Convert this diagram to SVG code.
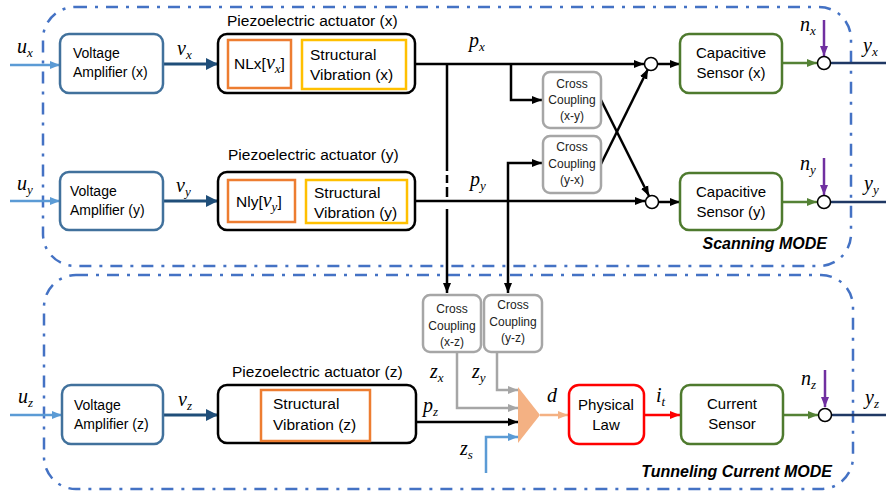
<svg xmlns="http://www.w3.org/2000/svg" width="886" height="494" viewBox="0 0 886 494">
<defs>
<style>
.t{font-family:"Liberation Sans",Arial,sans-serif;fill:#000}
.t14{font-size:14px}
.t15{font-size:15px}
.t155{font-size:15.5px}
.t12{font-size:12px;fill:#222}
.mode{font-family:"Liberation Sans",Arial,sans-serif;font-size:16px;font-weight:bold;font-style:italic;text-anchor:end}
.m{font-family:"Liberation Serif","Times New Roman",serif;font-style:italic;font-size:20px;fill:#000}
.s{font-size:13px}
.c{text-anchor:middle}
.zone{fill:none;stroke:#4472C4;stroke-width:2.5;stroke-dasharray:12 8 3 8}
.amp{fill:#fff;stroke:#41719C;stroke-width:2.5}
.pz{fill:#fff;stroke:#000;stroke-width:2.5}
.nl{fill:#fff;stroke:#ED7D31;stroke-width:2.5}
.sv{fill:#fff;stroke:#FFC000;stroke-width:2.5}
.cc{fill:#fff;stroke:#A6A6A6;stroke-width:2.5}
.sen{fill:#fff;stroke:#4E7A2E;stroke-width:2.5}
.pl{fill:#fff;stroke:#FF0000;stroke-width:2.5}
.sum{fill:#fff;stroke:#000;stroke-width:1.5}
.k{fill:none;stroke:#000;stroke-width:2.5}
.lb{fill:none;stroke:#5B9BD5;stroke-width:2.5}
.db{fill:none;stroke:#1F4E79;stroke-width:3}
.g{fill:none;stroke:#548235;stroke-width:2.5}
.pu{fill:none;stroke:#7030A0;stroke-width:2.5}
.nv{fill:none;stroke:#1F3864;stroke-width:2.5}
.gr{fill:none;stroke:#A6A6A6;stroke-width:2.5}
.or{fill:none;stroke:#F4B183;stroke-width:2.5}
.rd{fill:none;stroke:#FF0000;stroke-width:2.5}
</style>
<marker id="ak" viewBox="0 0 10 10" refX="10" refY="5" markerWidth="10" markerHeight="10" markerUnits="userSpaceOnUse" orient="auto"><path d="M0,1 L10,5 L0,9 z" fill="#000"/></marker>
<marker id="alb" viewBox="0 0 10 10" refX="10" refY="5" markerWidth="10" markerHeight="10" markerUnits="userSpaceOnUse" orient="auto"><path d="M0,1 L10,5 L0,9 z" fill="#5B9BD5"/></marker>
<marker id="adb" viewBox="0 0 10 10" refX="10" refY="5" markerWidth="12" markerHeight="12" markerUnits="userSpaceOnUse" orient="auto"><path d="M0,0 L10,5 L0,10 z" fill="#1F4E79"/></marker>
<marker id="ag" viewBox="0 0 10 10" refX="10" refY="5" markerWidth="10" markerHeight="10" markerUnits="userSpaceOnUse" orient="auto"><path d="M0,1 L10,5 L0,9 z" fill="#548235"/></marker>
<marker id="ap" viewBox="0 0 10 10" refX="10" refY="5" markerWidth="10" markerHeight="10" markerUnits="userSpaceOnUse" orient="auto"><path d="M0,1 L10,5 L0,9 z" fill="#7030A0"/></marker>
<marker id="agr" viewBox="0 0 10 10" refX="10" refY="5" markerWidth="10" markerHeight="10" markerUnits="userSpaceOnUse" orient="auto"><path d="M0,1 L10,5 L0,9 z" fill="#A6A6A6"/></marker>
<marker id="aor" viewBox="0 0 10 10" refX="10" refY="5" markerWidth="10" markerHeight="10" markerUnits="userSpaceOnUse" orient="auto"><path d="M0,1 L10,5 L0,9 z" fill="#F4B183"/></marker>
<marker id="ar" viewBox="0 0 10 10" refX="10" refY="5" markerWidth="10" markerHeight="10" markerUnits="userSpaceOnUse" orient="auto"><path d="M0,1 L10,5 L0,9 z" fill="#FF0000"/></marker>
</defs>
<rect width="886" height="494" fill="#fff"/>

<g id="zones">
<rect class="zone" x="43" y="7" width="808" height="259" rx="32"/>
<rect class="zone" x="44" y="275" width="809" height="214" rx="32"/>
<text class="mode" x="827" y="249">Scanning MODE</text>
<text class="mode" x="832" y="477">Tunneling Current MODE</text>
</g>

<g id="connectors">
<path class="lb" d="M10,65 H60" marker-end="url(#alb)"/>
<path class="lb" d="M10,201 H60" marker-end="url(#alb)"/>
<path class="lb" d="M10,415 H62" marker-end="url(#alb)"/>
<path class="db" d="M163,64 H218" marker-end="url(#adb)"/>
<path class="db" d="M163,201 H218" marker-end="url(#adb)"/>
<path class="db" d="M163,415 H218" marker-end="url(#adb)"/>
<path class="k" d="M415,64 H644" marker-end="url(#ak)"/>
<path class="k" d="M447,64 V171 M447,175 V183 M447,187 V197 M447,209 V293" marker-end="url(#ak)"/>
<path class="k" d="M511,64 V100 H542" marker-end="url(#ak)"/>
<path class="k" d="M601,100 L649,196" marker-end="url(#ak)"/>
<path class="k" d="M601,164 L648,69" marker-end="url(#ak)"/>
<path class="k" d="M415,201 H645" marker-end="url(#ak)"/>
<path class="k" d="M508,201 V163 H542" marker-end="url(#ak)"/>
<path class="k" d="M508,201 V293" marker-end="url(#ak)"/>
<path class="k" d="M657.5,64 H680" marker-end="url(#ak)"/>
<path class="k" d="M658.5,202 H680" marker-end="url(#ak)"/>
<path class="g" d="M782,63 H817" marker-end="url(#ag)"/>
<path class="g" d="M782,202 H817" marker-end="url(#ag)"/>
<path class="pu" d="M824,20 V56" marker-end="url(#ap)"/>
<path class="pu" d="M824,158 V195" marker-end="url(#ap)"/>
<path class="nv" d="M831,63 H886"/>
<path class="nv" d="M831,202 H886"/>
<path class="gr" d="M457,352 V408 H518" marker-end="url(#agr)"/>
<path class="gr" d="M497,352 V390 H518" marker-end="url(#agr)"/>
<path class="k" d="M416,422 H518" marker-end="url(#ak)"/>
<path class="lb" d="M486,473 V437 H518" marker-end="url(#alb)"/>
<path class="or" d="M540,415 H568" marker-end="url(#aor)"/>
<path class="rd" d="M644,415 H680" marker-end="url(#ar)"/>
<path class="g" d="M783,415 H818" marker-end="url(#ag)"/>
<path class="pu" d="M825,370 V407" marker-end="url(#ap)"/>
<path class="nv" d="M832,415 H886"/>
</g>

<g id="labels">
<text class="m" x="17" y="53">u<tspan class="s" dy="4">x</tspan></text>
<text class="m" x="17" y="190">u<tspan class="s" dy="4">y</tspan></text>
<text class="m" x="18" y="403">u<tspan class="s" dy="4">z</tspan></text>
<text class="m" x="177" y="55">v<tspan class="s" dy="4">x</tspan></text>
<text class="m" x="176" y="192">v<tspan class="s" dy="4">y</tspan></text>
<text class="m" x="178" y="406">v<tspan class="s" dy="4">z</tspan></text>
<text class="m" x="469" y="47">p<tspan class="s" dy="4">x</tspan></text>
<text class="m" x="470" y="186">p<tspan class="s" dy="4">y</tspan></text>
<text class="m" x="423" y="412">p<tspan class="s" dy="4">z</tspan></text>
<text class="m" x="430" y="378">z<tspan class="s" dy="4">x</tspan></text>
<text class="m" x="472" y="378">z<tspan class="s" dy="4">y</tspan></text>
<text class="m" x="460" y="455">z<tspan class="s" dy="4">s</tspan></text>
<text class="m" x="547" y="402">d</text>
<text class="m" x="656" y="402">i<tspan class="s" dy="4">t</tspan></text>
<text class="m" x="800" y="31">n<tspan class="s" dy="4">x</tspan></text>
<text class="m" x="800" y="170">n<tspan class="s" dy="4">y</tspan></text>
<text class="m" x="801" y="385">n<tspan class="s" dy="4">z</tspan></text>
<text class="m" x="863" y="52">y<tspan class="s" dy="4">x</tspan></text>
<text class="m" x="864" y="190">y<tspan class="s" dy="4">y</tspan></text>
<text class="m" x="865" y="404">y<tspan class="s" dy="4">z</tspan></text>
</g>

<g id="amp-x">
<rect class="amp" x="60" y="34" width="103" height="59" rx="9"/>
<text class="t t14" x="73" y="58">Voltage</text>
<text class="t t14" x="73" y="77">Amplifier (x)</text>
</g>
<g id="amp-y">
<rect class="amp" x="60" y="172" width="103" height="58" rx="9"/>
<text class="t t14" x="70" y="196">Voltage</text>
<text class="t t14" x="70" y="215">Amplifier (y)</text>
</g>
<g id="amp-z">
<rect class="amp" x="62" y="385" width="101" height="59" rx="9"/>
<text class="t t14" x="74" y="410">Voltage</text>
<text class="t t14" x="74" y="429">Amplifier (z)</text>
</g>

<g id="piezo-x">
<text class="t t155" x="227" y="26">Piezoelectric actuator (x)</text>
<rect class="pz" x="218" y="34" width="197" height="59" rx="9"/>
<rect class="nl" x="228" y="40" width="63" height="48"/>
<text class="t t155" x="234" y="69">NLx[<tspan class="m" font-size="18">v</tspan><tspan class="m s" dy="4">x</tspan><tspan dy="-4">]</tspan></text>
<rect class="sv" x="302" y="40" width="104" height="49"/>
<text class="t t155" x="310" y="60">Structural</text>
<text class="t t155" x="310" y="80">Vibration (x)</text>
</g>
<g id="piezo-y">
<text class="t t155" x="228" y="160">Piezoelectric actuator (y)</text>
<rect class="pz" x="218" y="172" width="197" height="58" rx="9"/>
<rect class="nl" x="228" y="180" width="67" height="42"/>
<text class="t t155" x="236" y="207">Nly[<tspan class="m" font-size="18">v</tspan><tspan class="m s" dy="4">y</tspan><tspan dy="-4">]</tspan></text>
<rect class="sv" x="306" y="180" width="101" height="43"/>
<text class="t t155" x="314" y="198">Structural</text>
<text class="t t155" x="314" y="218">Vibration (y)</text>
</g>
<g id="piezo-z">
<text class="t t155" x="232" y="377">Piezoelectric actuator (z)</text>
<rect class="pz" x="218" y="385" width="198" height="58" rx="9"/>
<rect class="nl" x="261" y="390" width="109" height="51"/>
<text class="t t155" x="273" y="409">Structural</text>
<text class="t t155" x="273" y="430">Vibration (z)</text>
</g>

<g id="cc-xy">
<rect class="cc" x="543" y="72" width="58" height="56" rx="7"/>
<text class="t t12 c" x="572" y="88">Cross</text>
<text class="t t12 c" x="572" y="104">Coupling</text>
<text class="t t12 c" x="572" y="120">(x-y)</text>
</g>
<g id="cc-yx">
<rect class="cc" x="543" y="136" width="58" height="57" rx="7"/>
<text class="t t12 c" x="572" y="151">Cross</text>
<text class="t t12 c" x="572" y="168">Coupling</text>
<text class="t t12 c" x="572" y="184">(y-x)</text>
</g>
<g id="cc-xz">
<rect class="cc" x="423" y="295" width="58" height="57" rx="7"/>
<text class="t t12 c" x="452" y="313">Cross</text>
<text class="t t12 c" x="452" y="330">Coupling</text>
<text class="t t12 c" x="452" y="346">(x-z)</text>
</g>
<g id="cc-yz">
<rect class="cc" x="484" y="295" width="58" height="57" rx="7"/>
<text class="t t12 c" x="513" y="309">Cross</text>
<text class="t t12 c" x="513" y="326">Coupling</text>
<text class="t t12 c" x="513" y="342">(y-z)</text>
</g>

<g id="sum-x"><circle class="sum" cx="651" cy="64" r="6.5"/></g>
<g id="sum-y"><circle class="sum" cx="652" cy="202" r="6.5"/></g>

<g id="sensor-x">
<rect class="sen" x="680" y="34" width="102" height="59" rx="9"/>
<text class="t t15 c" x="731" y="58">Capacitive</text>
<text class="t t15 c" x="731" y="78">Sensor (x)</text>
</g>
<g id="sensor-y">
<rect class="sen" x="680" y="173" width="102" height="57" rx="9"/>
<text class="t t15 c" x="731" y="197">Capacitive</text>
<text class="t t15 c" x="731" y="217">Sensor (y)</text>
</g>
<g id="noise-x"><circle class="sum" cx="824" cy="63" r="6.5"/></g>
<g id="noise-y"><circle class="sum" cx="824" cy="202" r="6.5"/></g>

<g id="combiner"><polygon points="518,387 518,443 540,415" fill="#F4B183"/></g>
<g id="physical-law">
<rect class="pl" x="569" y="385" width="75" height="59" rx="10"/>
<text class="t t15 c" x="606" y="410">Physical</text>
<text class="t t15 c" x="606" y="430">Law</text>
</g>
<g id="current-sensor">
<rect class="sen" x="681" y="385" width="102" height="59" rx="9"/>
<text class="t t15 c" x="732" y="409">Current</text>
<text class="t t15 c" x="732" y="429">Sensor</text>
</g>
<g id="noise-z"><circle class="sum" cx="825" cy="415" r="6.5"/></g>
</svg>
